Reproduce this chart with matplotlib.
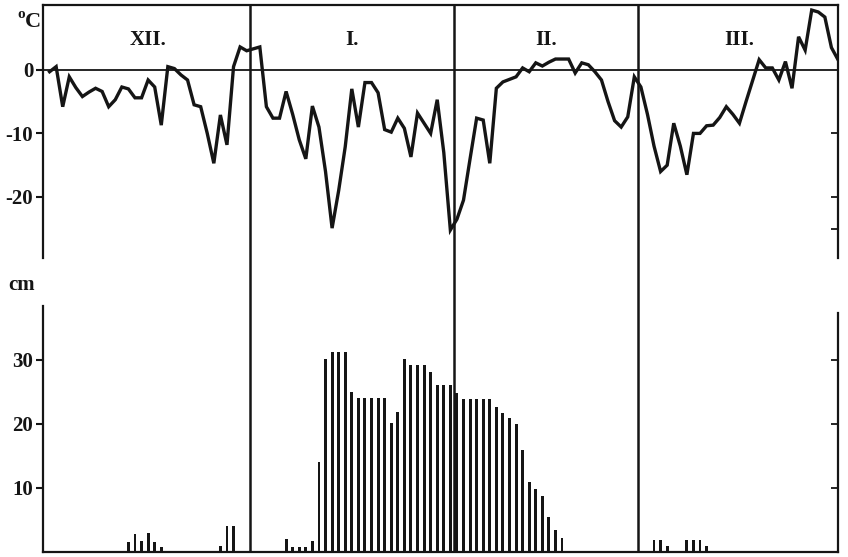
import numpy as np
import matplotlib.pyplot as plt

plt.rcParams["axes.unicode_minus"] = False

# daily mean air temperature, 1 Dec - 31 Mar (deg C)
temp_dec = [-0.3, 0.5, -5.8, -1.1, -2.8, -4.2, -3.5, -2.9, -3.4, -5.8,
            -4.7, -2.7, -3.0, -4.4, -4.4, -1.6, -2.7, -8.7, 0.5, 0.2,
            -0.8, -1.6, -5.5, -5.8, -10.0, -14.7, -7.1, -11.8, 0.5, 3.6, 3.0]
temp_jan = [3.3, 3.6, -5.8, -7.6, -7.6, -3.4, -7.0, -11.0, -14.0, -5.7,
            -9.0, -16.0, -24.9, -19.0, -12.1, -3.0, -9.0, -2.0, -2.0, -3.6,
            -9.4, -9.8, -7.6, -9.2, -13.7, -6.8, -8.4, -10.0, -4.7, -13.0, -25.2]
temp_feb = [-23.5, -20.5, -14.0, -7.6, -7.9, -14.7, -2.9, -1.9, -1.5, -1.1,
            0.3, -0.3, 1.1, 0.6, 1.2, 1.7, 1.7, 1.7, -0.5, 1.1,
            0.8, -0.3, -1.6, -5.0, -8.0, -9.0, -7.4, -1.1]
temp_mar = [-2.7, -7.0, -12.0, -16.0, -15.0, -8.4, -12.0, -16.5, -10.0, -10.0,
            -8.8, -8.7, -7.5, -5.8, -7.0, -8.4, -5.0, -1.7, 1.6, 0.3,
            0.3, -1.6, 1.3, -2.9, 5.2, 3.1, 9.4, 9.1, 8.3, 3.5, 1.6]

# snow depth (cm), days without snow are 0
snow_dec = [0] * 12 + [1.5, 2.8, 1.7, 3.0, 1.6, 0.8] + [0] * 8 + [0.9, 4.0, 4.1, 0, 0]
snow_jan = [0] * 5 + [2.0, 0.8, 0.8, 0.8, 1.7, 14.0, 30.2, 31.2, 31.2, 31.2,
                      25.0, 24.0, 24.0, 24.0, 24.0, 24.0, 20.1, 21.9, 30.2, 29.2,
                      29.2, 29.2, 28.1, 26.1, 26.0, 26.0]
snow_feb = [24.8, 23.9, 23.9, 23.9, 23.9, 23.9, 22.7, 21.7, 20.9, 20.0,
            15.9, 10.9, 9.9, 8.7, 5.4, 3.5, 2.2] + [0] * 11
snow_mar = [0, 0, 1.8, 1.8, 0.9, 0, 0, 1.8, 1.8, 1.8, 0.9] + [0] * 20

month_labels = ["XII.", "I.", "II.", "III."]
month_lengths = [31, 31, 28, 31]

temp = np.array(temp_dec + temp_jan + temp_feb + temp_mar)
snow = np.array(snow_dec + snow_jan + snow_feb + snow_mar)
days = np.arange(len(temp))
bounds = np.cumsum(month_lengths)[:-1] - 0.5
starts = np.concatenate([[0], np.cumsum(month_lengths)[:-1]])
mids = starts + np.array(month_lengths) / 2 - 0.5

W, H = 848, 557
fig = plt.figure(figsize=(W / 100, H / 100), dpi=100)
L, R = 43 / W, 795 / W
ink = "#151515"
tfont = dict(family="Liberation Serif", weight="bold", size=15)

ax_t = fig.add_axes([L, 1 - 258 / H, R, 253 / H])
ax_s = fig.add_axes([L, 1 - 552 / H, R, 246 / H])
ax_f = fig.add_axes([L, 1 - 552 / H, R, 547 / H], zorder=-1)
for ax in (ax_t, ax_s, ax_f):
    ax.set_xlim(-1.0, 120.0)
    ax.patch.set_alpha(0)

# month dividers across the whole figure
ax_f.axis("off")
for b in bounds:
    ax_f.axvline(b, color=ink, lw=1.8)

# temperature
ax_t.plot(days, temp, color=ink, lw=2.4, solid_joinstyle="miter")
ax_t.axhline(0, color=ink, lw=1.3)
ax_t.set_ylim(-29.6, 10.2)
ax_t.set_yticks([0, -10, -20])
ax_t.set_xticks([])
ax_t.spines["bottom"].set_visible(False)
for s in ("left", "right", "top"):
    ax_t.spines[s].set_linewidth(1.6)
    ax_t.spines[s].set_color(ink)
ax_t.tick_params(axis="y", direction="out", length=5, width=1.5, colors=ink, pad=2)
for lab in ax_t.get_yticklabels():
    lab.set_fontproperties(tfont)
for m, lab in zip(mids, month_labels):
    ax_t.text(m, 0.862, lab, transform=ax_t.get_xaxis_transform(),
              ha="center", va="center", family="Liberation Serif",
              weight="bold", size=15, color=ink)
axr = ax_t.twinx()
axr.set_ylim(ax_t.get_ylim())
axr.set_yticks([-10, -20, -25])
axr.set_yticklabels([])
axr.tick_params(direction="in", length=5, width=1.3, colors=ink)
for s in axr.spines.values():
    s.set_visible(False)

# snow depth
ax_s.bar(days, snow, width=0.44, color=ink)
ax_s.set_ylim(0, 38.4)
ax_s.set_yticks([10, 20, 30])
ax_s.set_xticks([])
ax_s.spines["top"].set_visible(False)
ax_s.spines["right"].set_bounds(0, 37.3)
for s in ("left", "right", "bottom"):
    ax_s.spines[s].set_linewidth(1.6)
    ax_s.spines[s].set_color(ink)
ax_s.tick_params(axis="y", direction="out", length=5, width=1.5, colors=ink, pad=2)
for lab in ax_s.get_yticklabels():
    lab.set_fontproperties(tfont)
axr2 = ax_s.twinx()
axr2.set_ylim(ax_s.get_ylim())
axr2.set_yticks([10, 20, 30])
axr2.set_yticklabels([])
axr2.tick_params(direction="in", length=5, width=1.3, colors=ink)
for s in axr2.spines.values():
    s.set_visible(False)

fig.text(21 / W, 1 - 14 / H, "o", family="Liberation Serif", weight="bold",
         size=11, ha="center", va="center", color=ink)
fig.text(33 / W, 1 - 22 / H, "C", family="Liberation Serif", weight="bold",
         size=16, ha="center", va="center", color=ink)
fig.text(22 / W, 1 - 285 / H, "cm", family="Liberation Serif", weight="bold",
         size=15, ha="center", va="center", color=ink)

fig.savefig("out.png", dpi=100)
